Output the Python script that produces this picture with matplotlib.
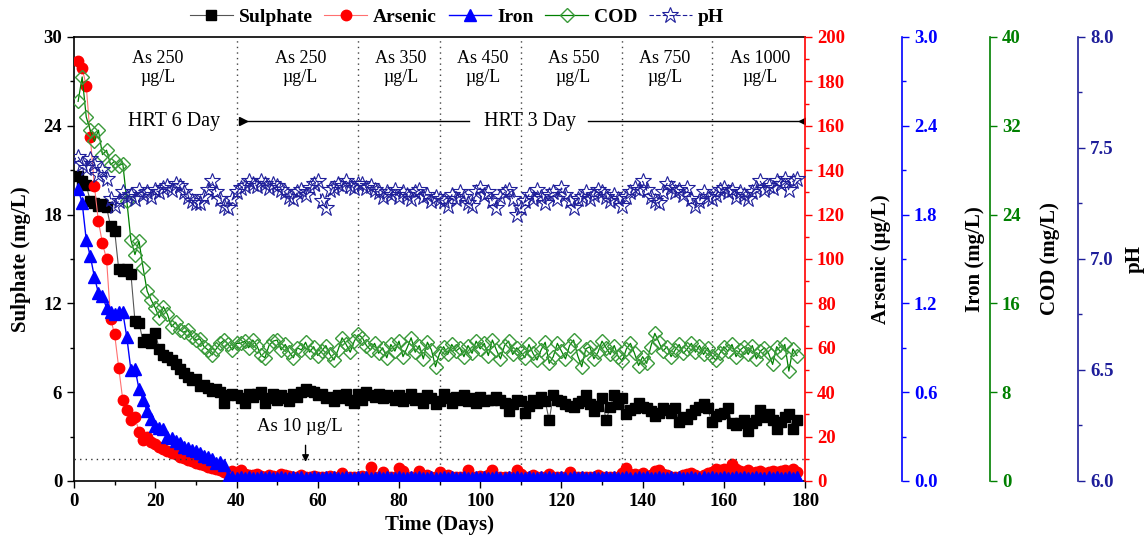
import numpy as np
import matplotlib
matplotlib.use("Agg")
import matplotlib.pyplot as plt
from matplotlib.ticker import MultipleLocator, FormatStrFormatter, NullLocator

plt.rcParams['font.family'] = ['Liberation Serif', 'DejaVu Serif']

days = list(range(1, 179))

sulphate = [
    20.6, 20.3, 20.0, 18.9, 18.8, 18.6, 18.7, 18.5, 17.2, 16.9,
    14.3, 14.2, 14.3, 14.0, 10.8, 10.7, 9.4, 9.6, 9.3, 10.0,
    8.9, 8.5, 8.4, 8.2, 7.9, 7.6, 7.3, 7.0, 6.8, 6.9,
    6.4, 6.5, 6.3, 6.1, 6.2, 6.0, 5.3, 5.8, 5.9, 5.8,
    5.6, 5.3, 5.9, 5.7, 5.9, 6.0, 5.3, 5.6, 5.9, 5.5,
    5.8, 5.6, 5.4, 5.9, 5.7, 6.0, 6.2, 6.1, 6.0, 5.8,
    5.9, 5.6, 5.7, 5.4, 5.8, 5.6, 5.9, 5.5, 5.3, 5.9,
    5.5, 6.0, 5.8, 5.7, 5.9, 5.6, 5.8, 5.7, 5.5, 5.8,
    5.4, 5.6, 5.9, 5.5, 5.6, 5.3, 5.8, 5.6, 5.2, 5.4,
    5.9, 5.6, 5.3, 5.7, 5.5, 5.8, 5.4, 5.6, 5.3, 5.7,
    5.4, 5.5, 5.5, 5.7, 5.5, 5.3, 4.7, 5.2, 5.5, 5.4,
    4.6, 5.1, 5.5, 5.3, 5.7, 5.4, 4.1, 5.8, 5.5, 5.4,
    5.2, 5.1, 5.0, 5.3, 5.4, 5.8, 5.2, 4.7, 5.1, 5.6,
    4.1, 5.0, 5.8, 5.2, 5.6, 4.5, 4.8, 4.9, 5.3, 5.0,
    4.9, 4.7, 4.4, 4.6, 4.9, 4.8, 4.6, 4.9, 4.0, 4.3,
    4.2, 4.5, 4.8, 5.0, 5.2, 4.9, 4.0, 4.4, 4.5, 4.6,
    4.9, 3.9, 3.8, 3.9, 4.1, 3.4, 3.9, 4.1, 4.8, 4.3,
    4.5, 4.1, 3.5, 4.0, 4.3, 4.5, 3.5, 4.1,
]

arsenic = [
    189, 186, 178, 155, 133, 117, 107, 100, 73, 66,
    51, 36.5, 32, 27.5, 29, 22, 18.5, 20, 17.5, 16.5,
    15.5, 14.5, 13.5, 12.8, 12, 11, 10.3, 9.5, 9, 8.2,
    7.8, 7, 6.5, 6, 5.5, 5, 4, 3, 4.5, 4,
    5, 3, 2.5, 2.5, 3, 2.2, 2, 2.5, 2.2, 2,
    3, 2.5, 2.2, 2, 2, 2.5, 2, 2, 2.2, 2,
    1.8, 2, 2.2, 1.8, 2, 3.5, 2, 1.8, 2, 2,
    2.2, 2, 6.5, 2, 2, 4, 2, 1.8, 2, 6,
    4.5, 2, 2, 2, 4.5, 2, 2.5, 2, 2, 4,
    2, 2.5, 1.8, 2, 2, 2, 5, 2, 2, 2.2,
    2, 2.5, 5, 2, 2, 2, 2, 2, 5, 3,
    2, 2, 2.5, 2, 2, 2, 3, 2, 2, 2,
    2, 4, 2, 2, 2, 2, 2, 2, 2.5, 2,
    2, 2, 2, 2, 3.5, 6, 3, 3, 2.5, 3.5,
    2, 2.5, 4.5, 5, 3, 2.5, 2, 2, 2, 2.5,
    3, 3.5, 2.5, 2, 2.5, 3.5, 4, 5.5, 5, 5.5,
    4.5, 7.5, 5.5, 4.5, 4, 5, 3.5, 4, 4.5, 3.5,
    4, 4.5, 4, 4.5, 5, 4, 5.5, 4,
]

iron = [
    1.97, 1.88, 1.63, 1.52, 1.38, 1.27, 1.25, 1.17, 1.14, 1.13,
    1.14, 1.14, 0.97, 0.75, 0.76, 0.62, 0.55, 0.47, 0.42, 0.37,
    0.36, 0.35, 0.30, 0.29, 0.27, 0.26, 0.23, 0.22, 0.21, 0.20,
    0.19, 0.17, 0.16, 0.15, 0.12, 0.13, 0.11, 0.03, 0.03, 0.02,
    0.03, 0.02, 0.03, 0.02, 0.02, 0.03, 0.02, 0.03, 0.02, 0.02,
    0.03, 0.02, 0.02, 0.03, 0.02, 0.03, 0.02, 0.02, 0.03, 0.02,
    0.02, 0.03, 0.02, 0.03, 0.02, 0.02, 0.03, 0.02, 0.02, 0.03,
    0.02, 0.03, 0.02, 0.02, 0.03, 0.02, 0.03, 0.02, 0.02, 0.03,
    0.02, 0.02, 0.03, 0.02, 0.03, 0.02, 0.02, 0.03, 0.02, 0.02,
    0.03, 0.02, 0.03, 0.02, 0.02, 0.03, 0.02, 0.02, 0.03, 0.02,
    0.03, 0.02, 0.02, 0.03, 0.02, 0.02, 0.03, 0.02, 0.03, 0.02,
    0.02, 0.03, 0.02, 0.02, 0.03, 0.02, 0.03, 0.02, 0.02, 0.03,
    0.02, 0.02, 0.03, 0.02, 0.03, 0.02, 0.02, 0.03, 0.02, 0.02,
    0.03, 0.02, 0.03, 0.02, 0.02, 0.03, 0.02, 0.02, 0.03, 0.02,
    0.03, 0.02, 0.02, 0.03, 0.02, 0.02, 0.03, 0.02, 0.03, 0.02,
    0.02, 0.03, 0.02, 0.02, 0.03, 0.02, 0.03, 0.02, 0.02, 0.03,
    0.02, 0.02, 0.03, 0.02, 0.03, 0.02, 0.02, 0.03, 0.02, 0.02,
    0.03, 0.02, 0.03, 0.02, 0.02, 0.03, 0.02, 0.03,
]

cod = [
    34.2, 36.4, 32.8, 31.6, 30.6, 31.6, 29.4, 29.8, 28.5, 28.8,
    28.4, 28.6, 25.2, 21.7, 20.4, 21.6, 19.2, 17.1, 16.3, 15.6,
    14.7, 15.7, 15.0, 13.9, 14.3, 13.6, 13.4, 13.6, 13.0, 12.7,
    12.8, 12.1, 11.8, 11.35, 11.9, 12.4, 12.7, 12.3, 11.8, 12.4,
    12.4, 12.6, 12.0, 12.7, 12.2, 11.35, 11.1, 12.2, 12.6, 12.7,
    11.8, 12.3, 11.6, 11.1, 12.0, 11.8, 12.5, 11.6, 12.1, 11.3,
    11.7, 12.2, 11.4, 10.9, 11.8, 12.9, 12.3, 11.6, 12.6, 13.2,
    12.9, 12.2, 11.8, 12.4, 11.5, 12.0, 11.1, 12.3, 11.7, 12.6,
    11.2, 12.0, 12.9, 11.6, 12.2, 11.0, 12.5, 11.8, 10.3, 11.5,
    12.1, 11.4, 12.3, 11.7, 12.0, 11.2, 12.2, 11.5, 12.6, 11.9,
    12.4, 11.3, 12.7, 11.8, 11.0, 12.2, 12.6, 11.4, 12.0, 11.6,
    11.1, 12.3, 11.5, 10.9, 11.8, 12.5, 10.6, 11.2, 12.4, 11.7,
    11.0, 12.2, 12.7, 11.3, 10.3, 11.9, 12.1, 11.0, 11.6, 12.6,
    12.0, 11.4, 12.2, 11.2, 10.8, 11.9, 12.4, 11.5, 10.4, 11.2,
    10.6, 12.1, 13.3, 12.5, 11.7, 12.1, 11.2, 11.8, 12.3, 11.5,
    11.9, 12.4, 11.6, 12.2, 11.4, 12.0, 11.3, 10.9, 11.5, 12.1,
    11.7, 12.3, 11.2, 11.8, 12.1, 11.4, 12.2, 11.0, 11.7, 12.0,
    11.5, 10.5, 12.1, 11.6, 12.3, 9.9, 11.9, 11.3,
]

ph = [
    7.46, 7.43, 7.41, 7.45, 7.43, 7.38, 7.40, 7.36, 7.27, 7.24,
    7.26, 7.30, 7.28, 7.29, 7.27, 7.31, 7.29, 7.30, 7.28, 7.31,
    7.30, 7.32, 7.33, 7.31, 7.34, 7.33, 7.30, 7.28, 7.26, 7.25,
    7.25, 7.28, 7.31, 7.35, 7.30, 7.27, 7.24, 7.23, 7.27, 7.30,
    7.32, 7.33, 7.35, 7.34, 7.33, 7.35, 7.34, 7.32, 7.34, 7.33,
    7.31, 7.30, 7.28, 7.27, 7.30, 7.31, 7.29, 7.32, 7.34, 7.35,
    7.26, 7.23, 7.31, 7.32, 7.34, 7.33, 7.35, 7.33, 7.32, 7.34,
    7.34, 7.32, 7.33, 7.31, 7.30, 7.28, 7.30, 7.29, 7.31, 7.28,
    7.30, 7.29, 7.27, 7.30, 7.31, 7.28, 7.29, 7.26, 7.28, 7.27,
    7.26, 7.24, 7.29, 7.27, 7.30, 7.28, 7.25, 7.24, 7.30, 7.32,
    7.29, 7.30, 7.26, 7.23, 7.28, 7.30, 7.31, 7.27, 7.20, 7.23,
    7.26, 7.29, 7.27, 7.31, 7.28, 7.25, 7.29, 7.30, 7.27, 7.32,
    7.29, 7.26, 7.23, 7.27, 7.28, 7.30, 7.27, 7.29, 7.31, 7.30,
    7.28, 7.26, 7.29, 7.27, 7.24, 7.28, 7.30, 7.32, 7.31, 7.35,
    7.31, 7.28, 7.26, 7.25, 7.30, 7.34, 7.32, 7.30, 7.31, 7.29,
    7.32, 7.27, 7.24, 7.26, 7.30, 7.28, 7.27, 7.29, 7.31, 7.32,
    7.30, 7.31, 7.28, 7.30, 7.29, 7.27, 7.30, 7.32, 7.35, 7.31,
    7.33, 7.32, 7.35, 7.34, 7.36, 7.31, 7.35, 7.36,
]

phase_bounds = [40, 70, 90, 110, 135, 157]
phase_labels = ["As 250\nµg/L", "As 250\nµg/L", "As 350\nµg/L", "As 450\nµg/L",
                "As 550\nµg/L", "As 750\nµg/L", "As 1000\nµg/L"]
phase_label_x = [20.6, 55.7, 80.5, 100.7, 122.9, 145.5, 169.0]

C_RED = '#ff0000'
C_BLUE = '#0000ff'
C_GREEN = '#008000'
C_NAVY = '#1e1e9a'

fig = plt.figure(figsize=(11.48, 5.43), dpi=100)
ax = fig.add_axes([0.0645, 0.1142, 0.6368, 0.8177])
ax2 = ax.twinx()
ax3 = ax.twinx()
ax4 = ax.twinx()
ax5 = ax.twinx()

TL = 13.5
LBL = 15

# Main (sulphate) axis
l1, = ax.plot(days, sulphate, color='#555555', lw=0.8, marker='s', ms=7.5,
              mfc='black', mec='black', label='Sulphate')
ax.set_xlim(0, 180)
ax.set_ylim(0, 30)
ax.xaxis.set_major_locator(MultipleLocator(20))
ax.xaxis.set_minor_locator(MultipleLocator(10))
ax.yaxis.set_major_locator(MultipleLocator(6))
ax.yaxis.set_minor_locator(MultipleLocator(3))
ax.tick_params(axis='both', which='major', direction='out', length=5, width=1,
               labelsize=TL, top=False, right=False)
ax.tick_params(axis='both', which='minor', direction='out', length=3, width=1,
               top=False, right=False)
for lab in ax.get_xticklabels() + ax.get_yticklabels():
    lab.set_fontweight('bold')
ax.set_xlabel('Time (Days)', fontsize=LBL, fontweight='bold', labelpad=4)
ax.set_ylabel('Sulphate (mg/L)', fontsize=LBL, fontweight='bold', labelpad=9)
ax.spines['right'].set_visible(False)
for s in ['left', 'top', 'bottom']:
    ax.spines[s].set_linewidth(1.2)

# Arsenic axis
l2, = ax2.plot(days, arsenic, color='#ff7070', lw=0.8, marker='o', ms=7.5,
               mfc=C_RED, mec=C_RED, label='Arsenic')
ax2.set_ylim(0, 200)
ax2.yaxis.set_major_locator(MultipleLocator(20))
ax2.yaxis.set_minor_locator(MultipleLocator(10))
for s in ['left', 'top', 'bottom']:
    ax2.spines[s].set_visible(False)
ax2.spines['right'].set_color(C_RED)
ax2.spines['right'].set_linewidth(1.2)
ax2.tick_params(axis='y', which='both', colors=C_RED, direction='out', width=1)
ax2.tick_params(axis='y', which='major', length=5, labelsize=TL)
ax2.tick_params(axis='y', which='minor', length=3)
ax2.set_ylabel('Arsenic (µg/L)', fontsize=LBL, fontweight='bold', labelpad=19)
ax2.axhline(10, color='#333333', ls=(0, (1, 3)), lw=1)

# Iron axis
l3, = ax3.plot(days, iron, color=C_BLUE, lw=1.0, marker='^', ms=8.5,
               mfc=C_BLUE, mec=C_BLUE, label='Iron')
ax3.set_ylim(0, 3.0)
ax3.yaxis.set_major_locator(MultipleLocator(0.6))
ax3.yaxis.set_minor_locator(MultipleLocator(0.3))
ax3.yaxis.set_major_formatter(FormatStrFormatter('%.1f'))

# COD axis
l4, = ax4.plot(days, cod, color=C_GREEN, lw=0.9, marker='D', ms=7,
               mfc='none', mec='#3a9a3a', mew=1.0, label='COD')
ax4.set_ylim(0, 40)
ax4.yaxis.set_major_locator(MultipleLocator(8))
ax4.yaxis.set_minor_locator(NullLocator())

# pH axis
l5, = ax5.plot(days, ph, color=C_NAVY, lw=0.8, ls=(0, (4, 2)), marker='*', ms=12,
               mfc='none', mec=C_NAVY, mew=0.8, label='pH')
ax5.set_ylim(6.0, 8.0)
ax5.yaxis.set_major_locator(MultipleLocator(0.5))
ax5.yaxis.set_minor_locator(MultipleLocator(0.25))
ax5.yaxis.set_major_formatter(FormatStrFormatter('%.1f'))

for a, pos, col, lab, pad in [(ax3, 1.1327, C_BLUE, 'Iron (mg/L)', 20),
                              (ax4, 1.2530, C_GREEN, 'COD (mg/L)', 14),
                              (ax5, 1.3735, C_NAVY, 'pH', 8)]:
    a.patch.set_visible(False)
    for s in ['left', 'top', 'bottom']:
        a.spines[s].set_visible(False)
    a.spines['right'].set_position(('axes', pos))
    a.spines['right'].set_color(col)
    a.spines['right'].set_linewidth(1.2)
    a.tick_params(axis='y', which='both', colors=col, direction='out', width=1)
    a.tick_params(axis='y', which='major', length=5, labelsize=TL)
    a.tick_params(axis='y', which='minor', length=3)
    a.set_ylabel(lab, fontsize=LBL, fontweight='bold', labelpad=pad)

for a in [ax2, ax3, ax4, ax5]:
    for lab in a.get_yticklabels():
        lab.set_fontweight('bold')

# Phase separators and labels
for xb in phase_bounds:
    ax.axvline(xb, color='#444444', ls=(0, (1, 3)), lw=1, zorder=0)
for xl, txt in zip(phase_label_x, phase_labels):
    ax.text(xl, 27.9, txt, ha='center', va='center', fontsize=13, linespacing=1.2)

# HRT annotations
ax.text(24.6, 24.3, 'HRT 6 Day', ha='center', va='center', fontsize=14.5)
ax.text(112.3, 24.3, 'HRT 3 Day', ha='center', va='center', fontsize=14.5)
ax.plot([41.6, 97.3], [24.3, 24.3], color='black', lw=1.0)
ax.plot([41.6], [24.3], marker='>', color='black', ms=6)
ax.plot([126.6, 179.4], [24.3, 24.3], color='black', lw=1.0)
ax.plot([179.4], [24.3], marker='<', color='black', ms=6)

# As 10 ug/L annotation
ax.annotate('', xy=(57, 1.1), xytext=(57, 2.6),
            arrowprops=dict(arrowstyle='-|>', color='black', lw=1, mutation_scale=10))
ax.text(55.6, 3.65, 'As 10 µg/L', ha='center', va='center', fontsize=13.5)

# Legend
fig.legend([l1, l2, l3, l4, l5], ['Sulphate', 'Arsenic', 'Iron', 'COD', 'pH'],
           loc='center', bbox_to_anchor=(0.398, 0.968), ncol=5, frameon=False,
           prop={'weight': 'bold', 'size': 14}, handlelength=2.2,
           columnspacing=0.6, handletextpad=0.3, borderaxespad=0)

fig.savefig('out.png', dpi=100)
